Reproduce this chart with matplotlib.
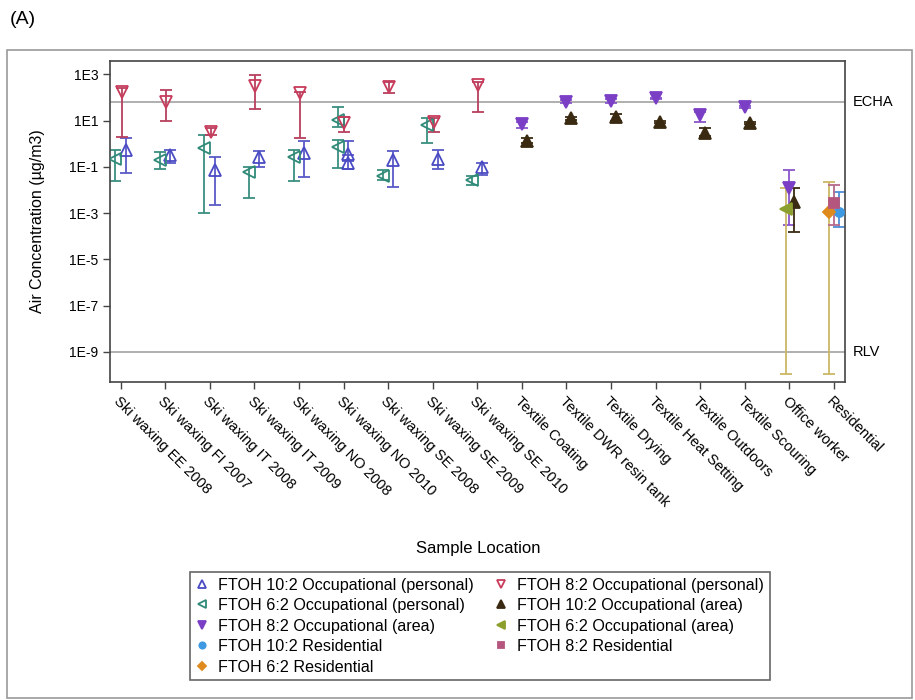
import matplotlib
matplotlib.use("Agg")
import matplotlib.pyplot as plt
from matplotlib.patches import Rectangle
import numpy as np

plt.rcParams['font.family'] = ['Liberation Sans', 'DejaVu Sans']

categories = ["Ski waxing EE 2008", "Ski waxing FI 2007", "Ski waxing IT 2008",
              "Ski waxing IT 2009", "Ski waxing NO 2008", "Ski waxing NO 2010",
              "Ski waxing SE 2008", "Ski waxing SE 2009", "Ski waxing SE 2010",
              "Textile Coating", "Textile DWR resin tank", "Textile Drying",
              "Textile Heat Setting", "Textile Outdoors", "Textile Scouring",
              "Office worker", "Residential"]

# each series: category index, value, lower, upper  (µg/m3)
ftoh102_pers_cat = [0, 1, 2, 3, 4, 5, 5, 6, 7, 8]
ftoh102_pers_val = [0.54, 0.33, 0.074, 0.26, 0.39, 0.35, 0.145, 0.20, 0.23, 0.102]
ftoh102_pers_lo = [0.056, 0.145, 0.0022, 0.095, 0.038, 0.18, 0.079, 0.0138, 0.079, 0.045]
ftoh102_pers_hi = [1.78, 0.54, 0.275, 0.49, 1.35, 1.26, 0.32, 0.50, 0.54, 0.145]

ftoh82_pers_cat = [0, 1, 2, 3, 4, 5, 6, 7, 8]
ftoh82_pers_val = [182, 66, 3.3, 316, 155, 7.8, 295, 9.1, 355]
ftoh82_pers_lo = [2.0, 10, 2.5, 32, 1.7, 3.3, 155, 3.3, 24.5]
ftoh82_pers_hi = [263, 214, 4.8, 955, 178, 14.8, 490, 12.6, 490]

ftoh62_pers_cat = [0, 1, 2, 3, 4, 5, 5, 6, 7, 8]
ftoh62_pers_val = [0.23, 0.20, 0.65, 0.062, 0.26, 10.7, 0.74, 0.041, 6.5, 0.027]
ftoh62_pers_lo = [0.025, 0.079, 0.00105, 0.0044, 0.025, 5.5, 0.087, 0.027, 1.12, 0.0166]
ftoh62_pers_hi = [0.54, 0.46, 2.4, 0.10, 0.54, 40.7, 1.45, 0.074, 12.6, 0.041]

ftoh102_area_cat = [9, 10, 11, 12, 13, 14, 15]
ftoh102_area_val = [1.35, 12.6, 14.8, 9.1, 3.0, 8.1, 0.0031]
ftoh102_area_lo = [1.05, 11.2, 10, 8.3, 2.1, 7.4, 0.00016]
ftoh102_area_hi = [1.7, 14.1, 18.6, 10, 4.8, 8.9, 0.0117]

ftoh82_area_cat = [9, 10, 11, 12, 13, 14, 15]
ftoh82_area_val = [7.2, 66, 74, 93, 17.8, 38, 0.0117]
ftoh82_area_lo = [4.7, 56, 60, 83, 9.1, 35.5, 0.0003]
ftoh82_area_hi = [9.1, 76, 89, 100, 24.5, 41.7, 0.074]

ftoh62_area_cat = [15]
ftoh62_area_val = [0.00145]
ftoh62_area_lo = [1.15e-10]
ftoh62_area_hi = [0.0117]

ftoh102_res_cat = [16]
ftoh102_res_val = [0.00115]
ftoh102_res_lo = [0.00026]
ftoh102_res_hi = [0.0079]

ftoh82_res_cat = [16]
ftoh82_res_val = [0.0028]
ftoh82_res_lo = [0.00032]
ftoh82_res_hi = [0.0166]

ftoh62_res_cat = [16]
ftoh62_res_val = [0.00115]
ftoh62_res_lo = [1.15e-10]
ftoh62_res_hi = [0.023]

echa_value = 65
rlv_value = 1e-9

ytick_vals = [1e3, 1e1, 1e-1, 1e-3, 1e-5, 1e-7, 1e-9]
ytick_labels = ["1E3", "1E1", "1E-1", "1E-3", "1E-5", "1E-7", "1E-9"]

series = [
    # label, cats, val, lo, hi, marker, color, ecolor, filled, offset
    ("FTOH 10:2 Occupational (personal)", ftoh102_pers_cat, ftoh102_pers_val, ftoh102_pers_lo, ftoh102_pers_hi, '^', '#4a4ac4', '#5a5ac8', False, 0.11),
    ("FTOH 6:2 Occupational (personal)", ftoh62_pers_cat, ftoh62_pers_val, ftoh62_pers_lo, ftoh62_pers_hi, '<', '#2f8a78', '#3a8f80', False, -0.12),
    ("FTOH 8:2 Occupational (area)", ftoh82_area_cat, ftoh82_area_val, ftoh82_area_lo, ftoh82_area_hi, 'v', '#7b3fc6', '#8a55cc', True, 0.0),
    ("FTOH 10:2 Residential", ftoh102_res_cat, ftoh102_res_val, ftoh102_res_lo, ftoh102_res_hi, 'o', '#3d9ae2', '#4f8fd8', True, 0.12),
    ("FTOH 6:2 Residential", ftoh62_res_cat, ftoh62_res_val, ftoh62_res_lo, ftoh62_res_hi, 'D', '#de8a1c', '#cdb867', True, -0.11),
    ("FTOH 8:2 Occupational (personal)", ftoh82_pers_cat, ftoh82_pers_val, ftoh82_pers_lo, ftoh82_pers_hi, 'v', '#c83b5b', '#b8405e', False, 0.02),
    ("FTOH 10:2 Occupational (area)", ftoh102_area_cat, ftoh102_area_val, ftoh102_area_lo, ftoh102_area_hi, '^', '#3a2a12', '#3a2a12', True, 0.11),
    ("FTOH 6:2 Occupational (area)", ftoh62_area_cat, ftoh62_area_val, ftoh62_area_lo, ftoh62_area_hi, '<', '#8c9e2e', '#cdb867', True, -0.08),
    ("FTOH 8:2 Residential", ftoh82_res_cat, ftoh82_res_val, ftoh82_res_lo, ftoh82_res_hi, 's', '#b5567f', '#b86a8c', True, 0.0),
]

fig = plt.figure(figsize=(9.15, 7.0), dpi=100)
ax = fig.add_axes([110/915, 1-382/700, (845-110)/915, (382-61)/700])

ax.axhline(echa_value, color='#9a9a9a', lw=1.1, zorder=1)
ax.axhline(rlv_value, color='#9a9a9a', lw=1.1, zorder=1)

handles = []
for (label, cats, val, lo, hi, mk, col, ecol, filled, off) in series:
    x = np.array(cats, dtype=float) + off
    v = np.array(val)
    yerr = np.vstack([v - np.array(lo), np.array(hi) - v])
    ax.errorbar(x, v, yerr=yerr, fmt='none', ecolor=ecol, elinewidth=1.3,
                capsize=4.5, capthick=1.3, zorder=2)
    h = ax.plot(x, v, linestyle='none', marker=mk, markersize=8 if mk in '^v<' else 6.5,
                markerfacecolor=col if filled else 'none', markeredgecolor=col,
                markeredgewidth=1.3, zorder=3, label=label)[0]
    handles.append(h)

ax.set_yscale('log')
ax.set_ylim(10**-10.3, 10**3.58)
ax.set_xlim(-0.24, 16.25)
ax.set_yticks(ytick_vals)
ax.set_yticklabels(ytick_labels, fontsize=10)
ax.yaxis.set_minor_locator(matplotlib.ticker.NullLocator())
ax.set_xticks(range(len(categories)))
ax.set_xticklabels(categories, rotation=-45, ha='left', va='top',
                   rotation_mode='anchor', fontsize=10.5)
ax.tick_params(axis='both', direction='out', length=5, width=1, color='#444444')
ax.tick_params(axis='x', pad=4)
for s in ax.spines.values():
    s.set_color('#444444')
    s.set_linewidth(1.2)

ax.set_ylabel("Air Concentration (µg/m3)", fontsize=11.5, labelpad=17)
fig.text(478/915, 1-548/700, "Sample Location", ha='center', va='center', fontsize=12)

ax.text(1.01, echa_value, "ECHA", transform=ax.get_yaxis_transform(),
        ha='left', va='center', fontsize=10.5)
ax.text(1.01, rlv_value, "RLV", transform=ax.get_yaxis_transform(),
        ha='left', va='center', fontsize=10.5)

fig.text(10/915, 1-20/700, "(A)", ha='left', va='center', fontsize=14)

# outer frame
fig.patches.append(Rectangle((7/915, 2/700), (912-7)/915, (698-50)/700,
                             transform=fig.transFigure, fill=False,
                             edgecolor='#9a9a9a', lw=1.2))

leg = fig.legend(handles=handles, loc='upper center', ncol=2,
                 bbox_to_anchor=(480/915, 1-572/700),
                 fontsize=11.6, frameon=True, fancybox=False,
                 framealpha=1, edgecolor='#666666', markerscale=0.7, handlelength=0.8,
                 handletextpad=0.6, labelspacing=0.34, columnspacing=1.3,
                 borderpad=0.35, borderaxespad=0)
leg.get_frame().set_linewidth(1.2)

fig.savefig("out.png", dpi=100)
